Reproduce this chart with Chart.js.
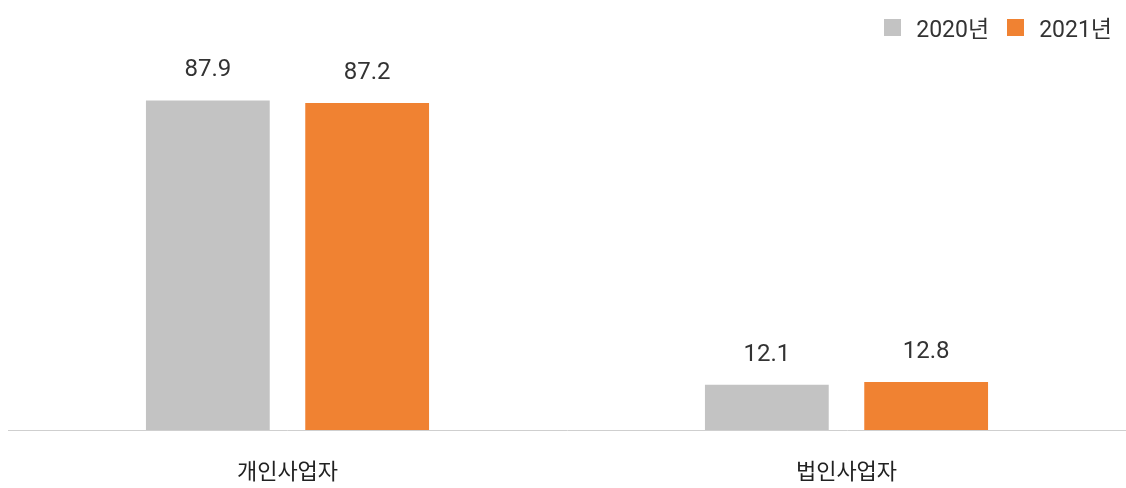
<!DOCTYPE html>
<html>
<head>
<meta charset="utf-8">
<script src="https://cdn.jsdelivr.net/npm/chart.js@4"></script>
<style>
  html, body { margin: 0; padding: 0; background: #fff; }
  .wrap { position: relative; width: 1126px; height: 488px; }
  .legend { position: absolute; top: 10px; right: 14px; display: flex; align-items: center;
            font-family: Roboto, 'Noto Sans CJK KR', sans-serif; font-size: 23px; color: #333; }
  .legend span.box { display: inline-block; width: 17px; height: 17px; margin-right: 15px; }
  .legend .item { display: flex; align-items: center; margin-left: 18px; }
</style>
</head>
<body>
<div class="wrap">
  <canvas id="chart" width="1126" height="488"></canvas>
  <div class="legend" id="legend"></div>
</div>
<script>
const categories = ['개인사업자', '법인사업자'];
const seriesNames = ['2020년', '2021년'];
const values2020 = [87.9, 12.1];
const values2021 = [87.2, 12.8];
const colors = ['#c3c3c3', '#f08232'];

const FONT = "Roboto, 'Noto Sans CJK KR', sans-serif";

// legend
document.getElementById('legend').innerHTML = seriesNames.map((n, i) =>
    `<div class="item"><span class="box" style="background:${colors[i]}"></span>${n}</div>`).join('');

// value labels above bars
const valueLabels = {
    id: 'valueLabels',
    afterDatasetsDraw(chart) {
        const ctx = chart.ctx;
        ctx.save();
        ctx.font = '24px ' + FONT;
        ctx.fillStyle = '#333';
        ctx.textAlign = 'center';
        ctx.textBaseline = 'middle';
        chart.data.datasets.forEach((ds, i) => {
            chart.getDatasetMeta(i).data.forEach((bar, j) => {
                ctx.fillText(ds.data[j].toFixed(1), bar.x, bar.y - 30);
            });
        });
        ctx.restore();
    }
};

new Chart(document.getElementById('chart'), {
    type: 'bar',
    data: {
        labels: categories,
        datasets: [
            { label: seriesNames[0], data: values2020, backgroundColor: colors[0] },
            { label: seriesNames[1], data: values2021, backgroundColor: colors[1] },
        ]
    },
    options: {
        responsive: false,
        animation: false,
        layout: { padding: { top: 55, left: 8, right: 0, bottom: 0 } },
        datasets: { bar: { categoryPercentage: 0.57, barPercentage: 0.777 } },
        plugins: { legend: { display: false }, tooltip: { enabled: false } },
        scales: {
            x: {
                grid: { display: false },
                border: { display: true, color: '#cfcfcf', width: 1 },
                ticks: { color: '#222', font: { family: FONT, size: 22 }, padding: 22 },
                afterFit: (scale) => { scale.height = 58; }
            },
            y: { display: false, min: 0, max: 100 }
        }
    },
    plugins: [valueLabels]
});
</script>
</body>
</html>
